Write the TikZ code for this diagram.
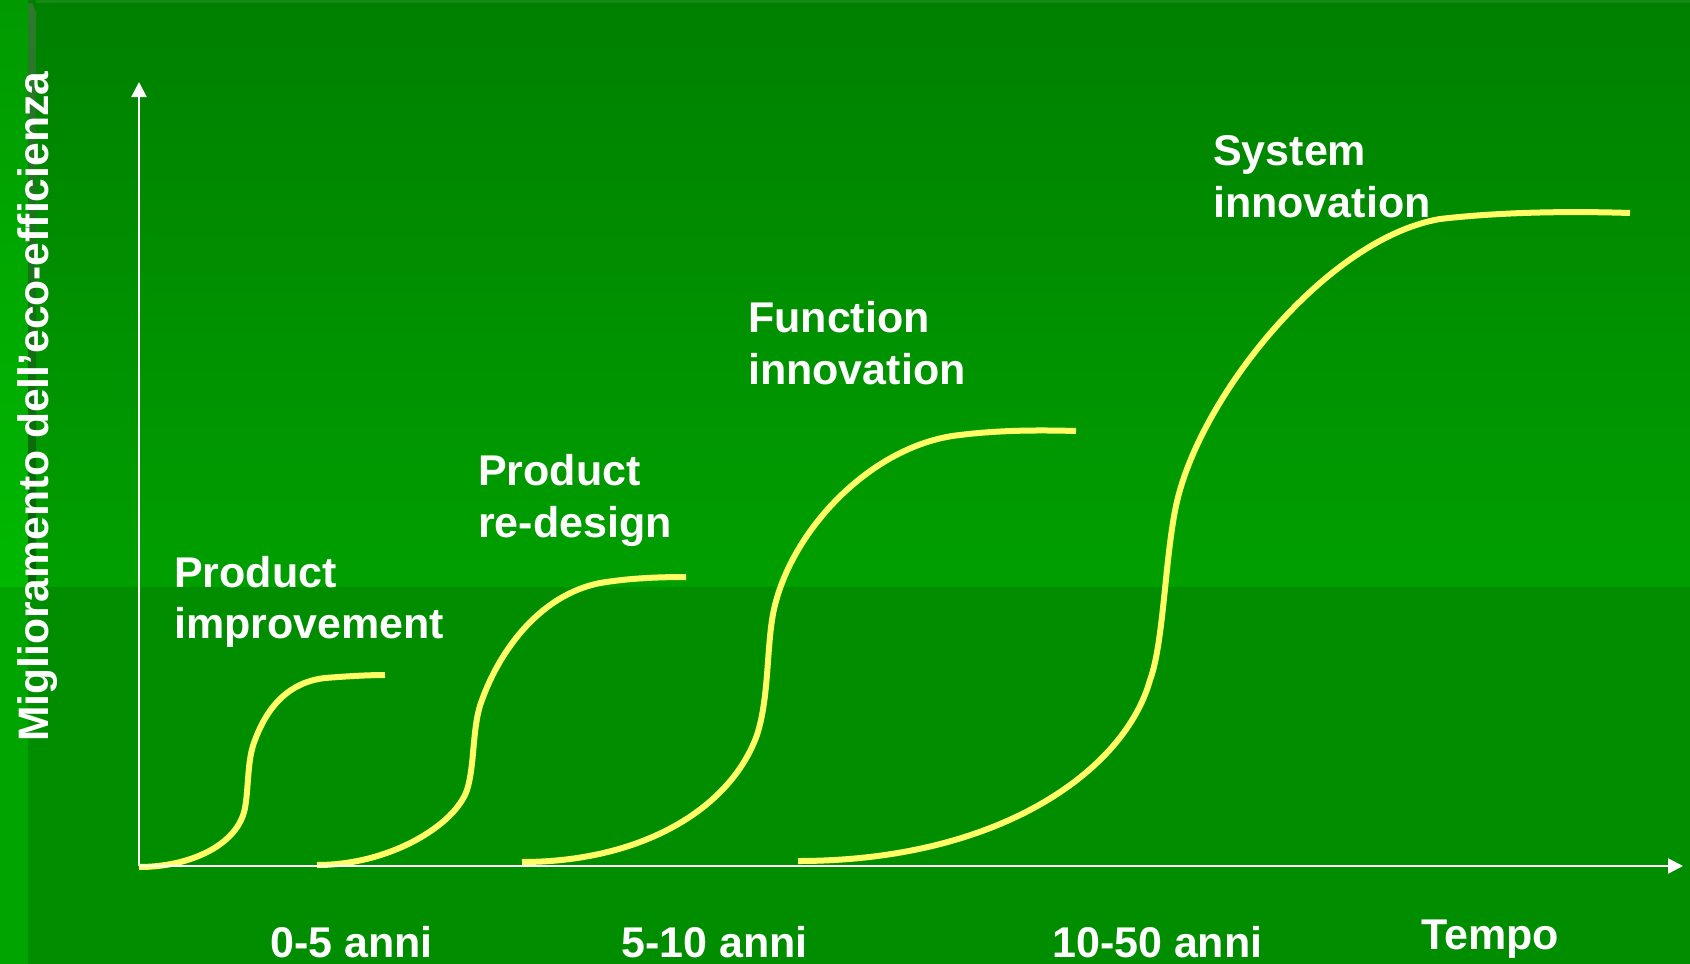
\documentclass[tikz,border=0pt]{standalone}
\usepackage{fontspec}
\setmainfont{Liberation Sans}
\usetikzlibrary{arrows.meta}
\definecolor{bgtop}{HTML}{008000}
\definecolor{bgmid}{HTML}{009F00}
\definecolor{bglow}{HTML}{008E00}
\definecolor{striptop}{HTML}{009A00}
\definecolor{stripmid}{HTML}{00B800}
\definecolor{striplow}{HTML}{00A400}
\definecolor{shadtop}{HTML}{2E7A2E}
\definecolor{shadlow}{HTML}{006600}
\definecolor{curvecol}{HTML}{FFFF66}
\tikzset{
  lbl/.style={text=white, font=\fontsize{43}{50}\selectfont\bfseries, inner sep=0pt, anchor=base west},
  axisline/.style={draw=white, line width=2.2pt, -{Triangle[length=15pt,width=15pt]}},
  scurve/.style={draw=curvecol, line width=6pt}
}
\begin{document}
\begin{tikzpicture}[x=1pt,y=-1pt]
\useasboundingbox (0,0) rectangle (1690,964);
% background
\shade[top color=bgtop, bottom color=bgmid] (0,0) rectangle (1690,587);
\fill[bglow] (0,587) rectangle (1690,964);
\shade[top color=striptop, bottom color=stripmid] (0,0) rectangle (28,587);
\fill[striplow] (0,587) rectangle (28,964);
\shade[top color=shadtop, bottom color=shadlow] (28,3) -- (32,3) -- (36,12) -- (36,587) -- (28,587) -- cycle;
\fill[bgtop!92!white] (36,0) rectangle (1690,3);
% curves
\draw[scurve] (139,867) .. controls (190,867) and (238,845) .. (245,808)
  .. controls (249,785) and (247,760) .. (255,740)
  .. controls (268,705) and (290,682) .. (325,678)
  .. controls (350,676) and (370,675) .. (385,675);
\draw[scurve] (317,865) .. controls (390,865) and (455,825) .. (467,790)
  .. controls (475,765) and (472,725) .. (482,700)
  .. controls (500,650) and (540,595) .. (600,583)
  .. controls (630,578) and (660,577) .. (686,577);
\draw[scurve] (522,862) .. controls (640,862) and (730,810) .. (757,735)
  .. controls (770,695) and (766,640) .. (775,605)
  .. controls (795,525) and (875,444) .. (960,435)
  .. controls (1000,430) and (1040,430) .. (1076,431);
\draw[scurve] (798,861) .. controls (1000,861) and (1125,770) .. (1150,680)
  .. controls (1165,640) and (1165,540) .. (1180,490)
  .. controls (1210,385) and (1330,238) .. (1440,219)
  .. controls (1500,212) and (1570,211) .. (1630,213);
% axes
\coordinate (O) at (139,866);
\coordinate (ytip) at (139,82);
\coordinate (xtip) at (1683,866);
\draw[axisline] (O) -- (ytip);
\draw[axisline] (O) -- (xtip);
% labels
\node[lbl, rotate=90, font=\fontsize{42.6}{50}\selectfont\bfseries] (ylab) at (48,742) {Miglioramento dell’eco-efficienza};
\node[lbl] (pi1) at (174,587) {Product};
\node[lbl] (pi2) at (174,638) {improvement};
\node[lbl] (pr1) at (478,485) {Product};
\node[lbl] (pr2) at (478,537) {re-design};
\node[lbl] (fi1) at (748,332) {Function};
\node[lbl] (fi2) at (748,384) {innovation};
\node[lbl] (si1) at (1213,165) {System};
\node[lbl] (si2) at (1213,217) {innovation};
\node[lbl] (t1) at (270,957) {0-5 anni};
\node[lbl] (t2) at (621,957) {5-10 anni};
\node[lbl] (t3) at (1052,957) {10-50 anni};
\node[lbl] (tempo) at (1421,949) {Tempo};
\end{tikzpicture}
\end{document}
